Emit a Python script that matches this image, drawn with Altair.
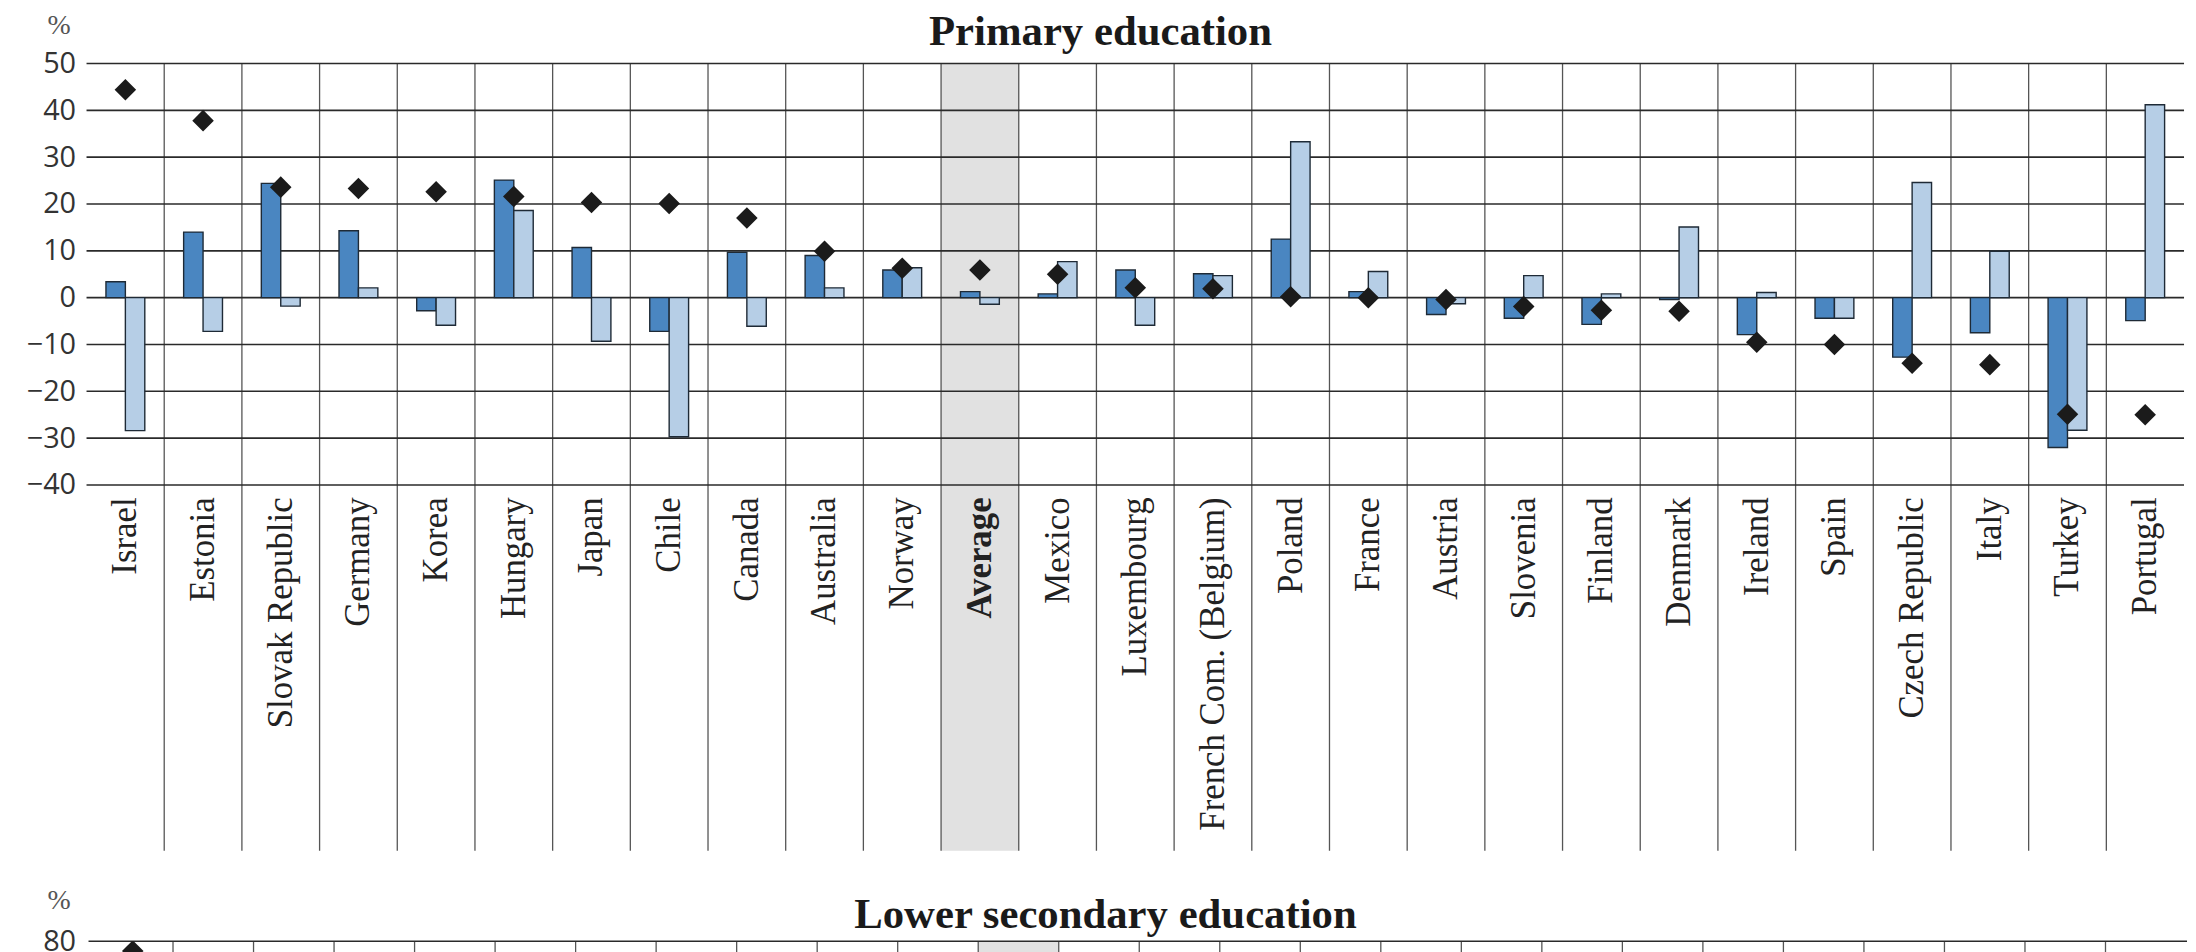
import altair as alt
import pandas as pd

# ---------------- data ----------------
countries = ["Israel", "Estonia", "Slovak Republic", "Germany", "Korea", "Hungary",
             "Japan", "Chile", "Canada", "Australia", "Norway", "Average", "Mexico",
             "Luxembourg", "French Com. (Belgium)", "Poland", "France", "Austria",
             "Slovenia", "Finland", "Denmark", "Ireland", "Spain", "Czech Republic",
             "Italy", "Turkey", "Portugal"]
series_a = [3.4, 14.0, 24.4, 14.3, -2.8, 25.1, 10.7, -7.2, 9.7, 9.0, 5.9, 1.3, 0.8,
            5.9, 5.1, 12.5, 1.3, -3.6, -4.4, -5.7, -0.4, -7.9, -4.4, -12.7, -7.5,
            -32.0, -4.9]
series_b = [-28.4, -7.2, -1.8, 2.1, -5.9, 18.6, -9.3, -29.7, -6.1, 2.1, 6.4, -1.4, 7.7,
            -5.9, 4.7, 33.3, 5.6, -1.3, 4.7, 0.8, 15.1, 1.1, -4.4, 24.6, 9.9,
            -28.3, 41.2]
series_c = [44.4, 37.8, 23.6, 23.3, 22.6, 21.6, 20.3, 20.1, 17.0, 9.9, 6.3, 5.9, 5.0,
            2.1, 1.9, 0.2, 0.0, -0.4, -1.9, -2.7, -2.9, -9.5, -10.0, -14.0, -14.3,
            -24.9, -25.0]
series_names = ["Series A", "Series B"]
bar_colors = ["#4A86C1", "#B6CEE6"]
y_ticks = [50, 40, 30, 20, 10, 0, -10, -20, -30, -40]
highlight = ["Average"]
title_top = ["Primary education"]
title_bottom = ["Lower secondary education"]

# lower panel (only its top edge is visible)
lower_ticks = [80]
lower_count = 26
lower_first_value = [77.3]

# ---------------- sizes ----------------
W1, H1 = 2110, 424
SEP_BOTTOM = 792          # separators run down through the label area
W2, H2 = 2113, 11

# ---------------- tables ----------------
bars_df = pd.DataFrame({
    "country": countries * 2,
    "series": [series_names[0]] * len(countries) + [series_names[1]] * len(countries),
    "value": series_a + series_b,
})
pts_df = pd.DataFrame({"country": countries, "value": series_c})
sep_df = pd.DataFrame({"country": countries[1:]})
band_df = pd.DataFrame({"country": highlight})
grid_df = pd.DataFrame({"v": y_ticks})

x_scale = alt.Scale(domain=countries, paddingInner=0, paddingOuter=0)
x_axis = alt.Axis(
    title=None, labelAngle=270, labelFont="Liberation Serif", labelFontSize=35,
    labelColor="#222222", labelPadding=12, labelLimit=600, ticks=False,
    domain=False, grid=False,
    labelFontWeight={"condition": {"test": "datum.value == 'Average'", "value": "bold"},
                     "value": "normal"},
)
y_scale = alt.Scale(domain=[-40, 50], nice=False, zero=False)
y_axis = alt.Axis(
    values=y_ticks, grid=False, ticks=False, domain=False,
    labelFont="Open Sans", labelFontSize=29, labelColor="#333333", labelPadding=11,
    title="%", titleAngle=0, titleFont="Liberation Serif", titleFontSize=28,
    titleFontWeight="normal", titleColor="#555555", titleX=-28, titleY=-38,
    titleAlign="center", titleBaseline="middle",
)

X = alt.X("country:N", scale=x_scale, axis=x_axis, sort=countries)

band = alt.Chart(band_df).mark_rect(color="#E1E1E1").encode(
    x=X, y=alt.value(0), y2=alt.value(SEP_BOTTOM))

seps = alt.Chart(sep_df).mark_rule(color="#555555", strokeWidth=1.3).encode(
    x=alt.X("country:N", scale=x_scale, axis=x_axis, sort=countries, bandPosition=0),
    y=alt.value(0), y2=alt.value(SEP_BOTTOM))

grid = alt.Chart(grid_df).mark_rule(color="#2a2a2a", strokeWidth=1.6).encode(
    y=alt.Y("v:Q", scale=y_scale, axis=y_axis), x=alt.value(0), x2=alt.value(W1))

bars = alt.Chart(bars_df).mark_bar(stroke="#1e2a36", strokeWidth=1.4).encode(
    x=X,
    xOffset=alt.XOffset("series:N", scale=alt.Scale(domain=series_names,
                                                    paddingInner=0, paddingOuter=1)),
    y=alt.Y("value:Q", scale=y_scale, axis=y_axis),
    color=alt.Color("series:N", scale=alt.Scale(domain=series_names, range=bar_colors),
                    legend=None),
)

pts = alt.Chart(pts_df).mark_point(shape="diamond", filled=True, color="#1b1b1b",
                                   size=470, opacity=1).encode(
    x=X, y=alt.Y("value:Q", scale=y_scale, axis=y_axis))

ttl1 = alt.Chart(pd.DataFrame({"t": title_top})).mark_text(
    font="Liberation Serif", fontSize=43, fontWeight="bold", color="#1a1a1a",
    align="center", baseline="alphabetic").encode(
    text="t:N", x=alt.value(1020), y=alt.value(-19))

top = alt.layer(band, seps, grid, bars, pts, ttl1).properties(width=W1, height=H1)

# ---------------- lower panel ----------------
lx_scale = alt.Scale(domain=[0, lower_count], range=[6, W2 - 1], nice=False, zero=False)
ly_scale = alt.Scale(domain=[77, 80], nice=False, zero=False)
ly_axis = alt.Axis(
    values=lower_ticks, grid=False, ticks=False, domain=False,
    labelFont="Open Sans", labelFontSize=29, labelColor="#333333", labelPadding=11,
    title="%", titleAngle=0, titleFont="Liberation Serif", titleFontSize=28,
    titleFontWeight="normal", titleColor="#555555", titleX=-28, titleY=-41,
    titleAlign="center", titleBaseline="middle",
)
lsep_df = pd.DataFrame({"i": list(range(1, lower_count))})
lband_df = pd.DataFrame({"a": [countries.index("Average")], "b": [countries.index("Average") + 1]})
lgrid_df = pd.DataFrame({"v": lower_ticks})
lpts_df = pd.DataFrame({"i": [0.5], "value": lower_first_value})

lband = alt.Chart(lband_df).mark_rect(color="#E1E1E1").encode(
    x=alt.X("a:Q", scale=lx_scale, axis=None), x2="b:Q",
    y=alt.value(0), y2=alt.value(H2))
lseps = alt.Chart(lsep_df).mark_rule(color="#555555", strokeWidth=1.3).encode(
    x=alt.X("i:Q", scale=lx_scale, axis=None), y=alt.value(0), y2=alt.value(H2))
lgrid = alt.Chart(lgrid_df).mark_rule(color="#2a2a2a", strokeWidth=1.6).encode(
    y=alt.Y("v:Q", scale=ly_scale, axis=ly_axis), x=alt.value(2), x2=alt.value(W2))
lpts = alt.Chart(lpts_df).mark_point(shape="diamond", filled=True, color="#1b1b1b",
                                     size=470, opacity=1, clip=True).encode(
    x=alt.X("i:Q", scale=lx_scale, axis=None),
    y=alt.Y("value:Q", scale=ly_scale, axis=ly_axis))
ttl2 = alt.Chart(pd.DataFrame({"t": title_bottom})).mark_text(
    font="Liberation Serif", fontSize=43, fontWeight="bold", color="#1a1a1a",
    align="center", baseline="alphabetic").encode(
    text="t:N", x=alt.value(1025), y=alt.value(-13))

bottom = alt.layer(lband, lseps, lgrid, lpts, ttl2).properties(width=W2, height=H2)

chart = alt.vconcat(top, bottom, spacing=35).properties(
    padding={"left": 18, "top": 0, "right": 0, "bottom": 0},
    background="white",
).configure_view(strokeWidth=0)

chart.save("out.html", embed_options={"renderer": "svg", "actions": False})
